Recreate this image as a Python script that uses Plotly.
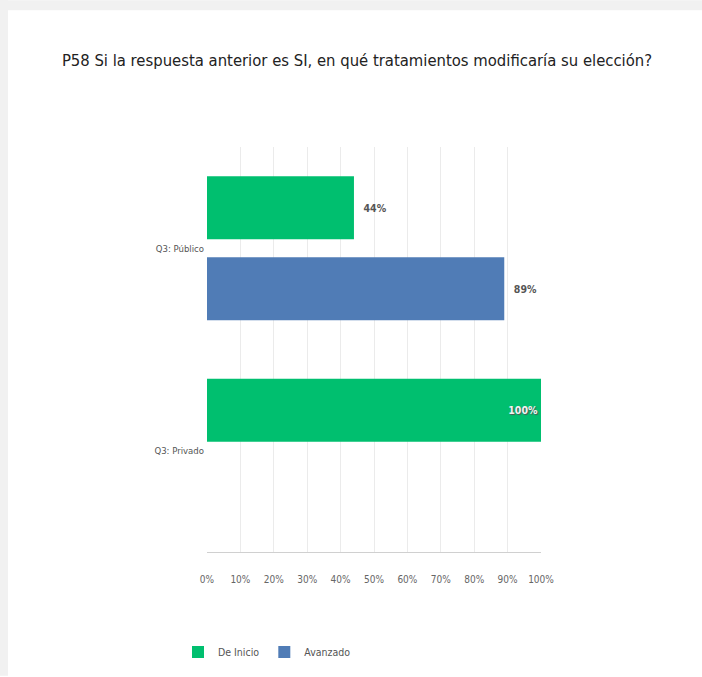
import plotly.graph_objects as go

categories = ["Q3: Público", "Q3: Privado"]
de_inicio = [44, 100]
avanzado = [89, None]
series_names = ["De Inicio", "Avanzado"]
tick_vals = [0, 10, 20, 30, 40, 50, 60, 70, 80, 90, 100]
tick_text = ["0%", "10%", "20%", "30%", "40%", "50%", "60%", "70%", "80%", "90%", "100%"]
title_text = "P58 Si la respuesta anterior es SI, en qué tratamientos modificaría su elección?"

FONT = "DejaVu Sans Condensed, Liberation Sans Narrow, Liberation Sans, sans-serif"
GREEN = "#00BF6F"
BLUE = "#507CB6"

W, H = 702, 677
L, R, T, B = 207, 161, 147, 124
pw, ph = W - L - R, H - T - B

def pos(v):
    return "outside" if v is not None and v < 95 else "inside"

def lab(vals):
    out = []
    for v in vals:
        if v is None:
            out.append("")
        elif v < 95:
            out.append("\u00a0\u00a0" + f"{v}%")
        else:
            out.append(f"{v}%")
    return out

fig = go.Figure()
fig.add_trace(go.Bar(
    name=series_names[0], y=categories, x=de_inicio, orientation="h",
    marker=dict(color=GREEN, line=dict(width=0)),
    text=lab(de_inicio), textposition=[pos(v) for v in de_inicio],
    insidetextanchor="end",
    insidetextfont=dict(family=FONT, size=10.5, color="#f2f2f2", weight="bold",
                        shadow="1px 1px 1px #555"),
    outsidetextfont=dict(family=FONT, size=10.5, color="#555555", weight="bold"),
    cliponaxis=False, hoverinfo="skip",
))
fig.add_trace(go.Bar(
    name=series_names[1], y=categories, x=avanzado, orientation="h",
    marker=dict(color=BLUE, line=dict(width=0)),
    text=lab(avanzado), textposition=[pos(v) for v in avanzado],
    insidetextanchor="end",
    insidetextfont=dict(family=FONT, size=10.5, color="#f2f2f2", weight="bold"),
    outsidetextfont=dict(family=FONT, size=10.5, color="#555555", weight="bold"),
    cliponaxis=False, hoverinfo="skip",
))

def px_x(p):
    return (p - L) / pw

def px_y(p):
    return (H - B - p) / ph

shapes = [
    dict(type="rect", xref="paper", yref="paper", x0=px_x(0), x1=px_x(W),
         y0=px_y(10), y1=px_y(0), fillcolor="#f1f1f1", line=dict(width=0), layer="below"),
    dict(type="rect", xref="paper", yref="paper", x0=px_x(0), x1=px_x(8),
         y0=px_y(H), y1=px_y(0), fillcolor="#f1f1f1", line=dict(width=0), layer="below"),
]

fig.update_layout(
    width=W, height=H,
    margin=dict(l=L, r=R, t=T, b=B, pad=0),
    paper_bgcolor="white", plot_bgcolor="white",
    barmode="group", bargap=0.2, bargroupgap=0.22,
    title=dict(text=title_text, x=357 / W, xanchor="center", y=1 - 60 / H,
               yanchor="middle", yref="container",
               font=dict(family=FONT, size=16.5, color="#222222")),
    xaxis=dict(range=[0, 100], tickvals=tick_vals, ticktext=tick_text,
               showgrid=True, gridcolor="#ebebeb", gridwidth=1,
               zeroline=False, showline=True, linecolor="#d0d0d0", linewidth=1,
               ticks="", ticklabelstandoff=18,
               tickfont=dict(family=FONT, size=10, color="#666666"),
               fixedrange=True),
    yaxis=dict(autorange="reversed", showgrid=False, zeroline=False,
               showline=False, ticks="", ticklabelstandoff=2,
               tickfont=dict(family=FONT, size=9.5, color="#555555"),
               fixedrange=True),
    legend=dict(orientation="h", x=px_x(178), xanchor="left", y=px_y(652),
                yanchor="middle", font=dict(family=FONT, size=10.5, color="#555555"),
                itemwidth=30, tracegroupgap=0),
    shapes=shapes,
    showlegend=True,
)

fig.write_html("out.html")
